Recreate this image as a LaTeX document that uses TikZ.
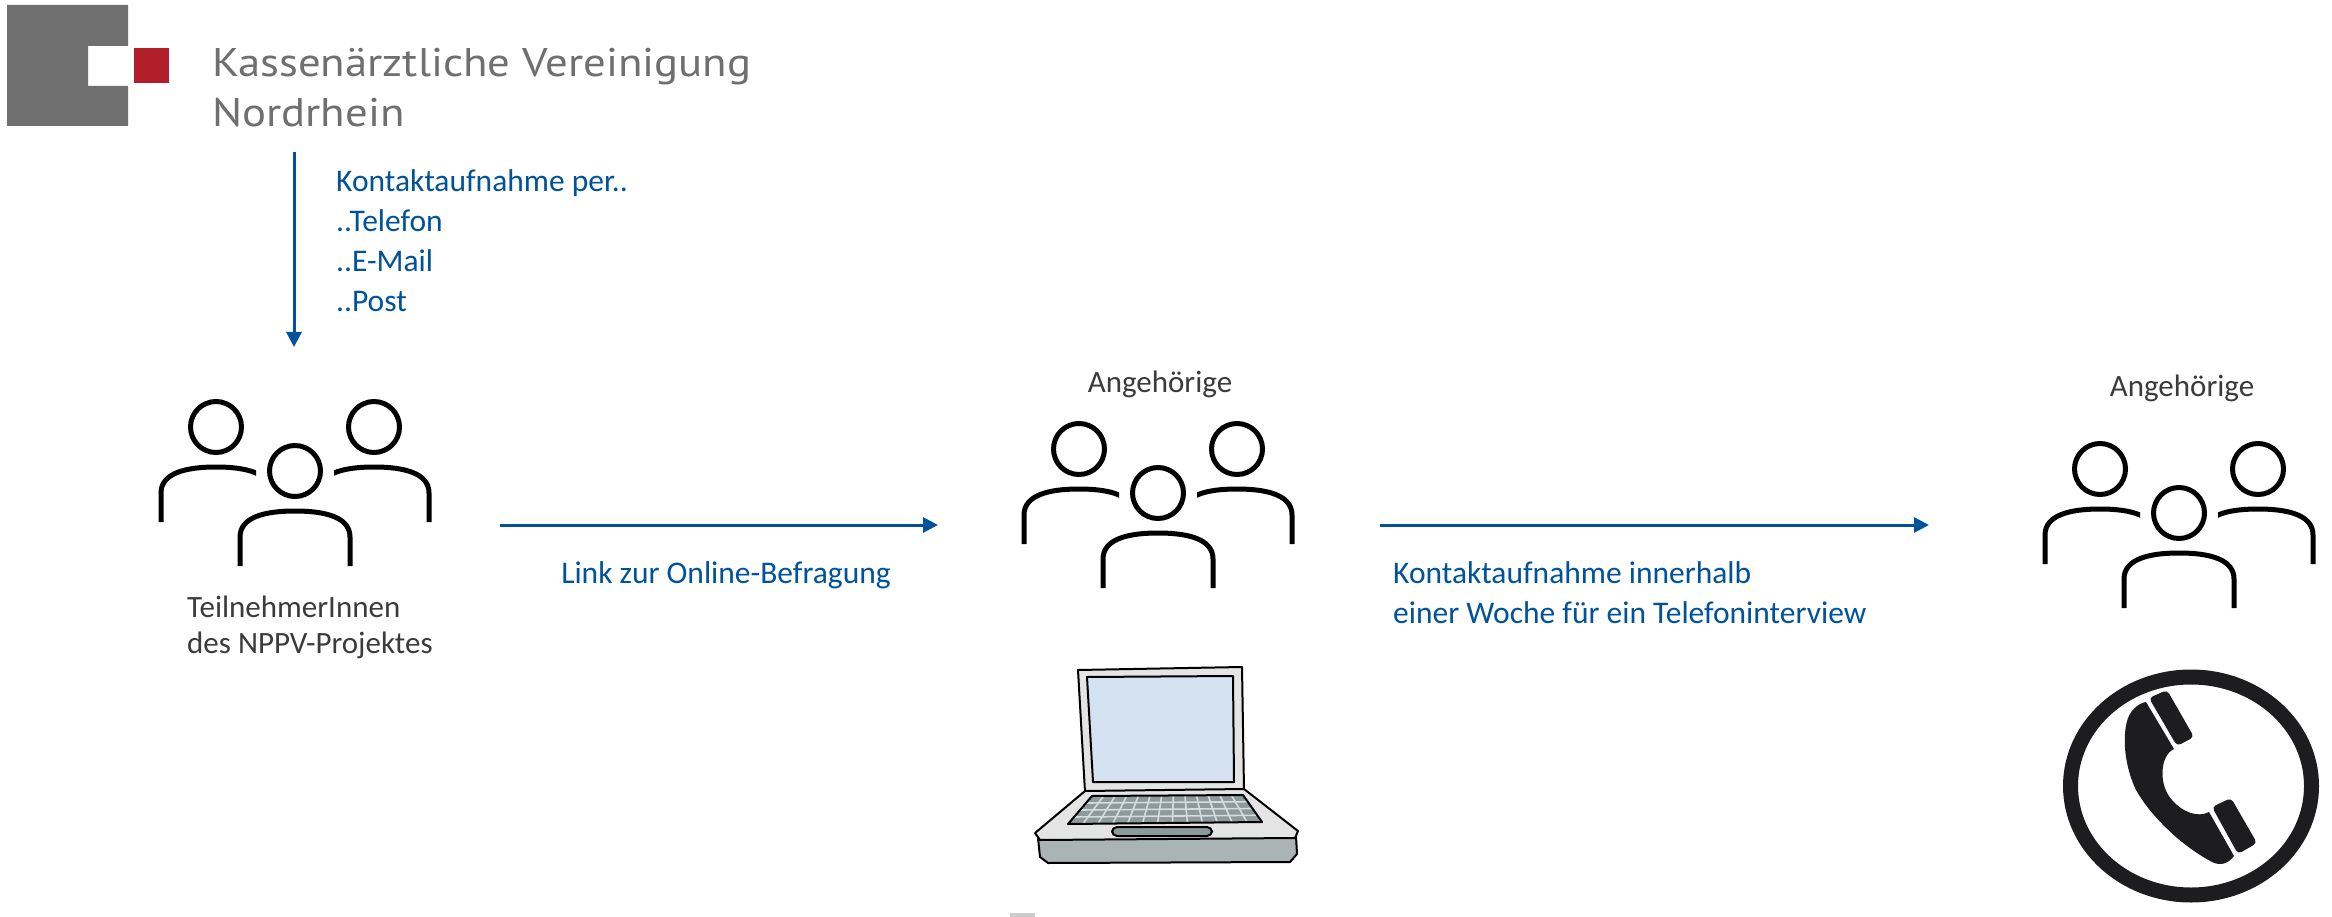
\documentclass[tikz,border=0pt]{standalone}
\usepackage{fontspec}
\setmainfont{Carlito}
\newfontfamily\logofont{PT Sans}
\usetikzlibrary{arrows.meta,calc}

\definecolor{kvblue}{RGB}{0,82,155}
\definecolor{kvgray}{RGB}{112,111,111}
\definecolor{kvred}{RGB}{178,31,43}
\definecolor{labelgray}{RGB}{59,59,59}
\definecolor{lidgray}{RGB}{228,228,228}
\definecolor{screenblue}{RGB}{212,226,242}
\definecolor{keygray}{RGB}{140,154,156}
\definecolor{keygap}{RGB}{214,220,220}
\definecolor{frontgray}{RGB}{170,180,181}
\definecolor{phoneblack}{RGB}{29,29,31}

\newsavebox\logobox
\newlength\logowidth
\newcommand\logosize{\fontsize{40}{40}\selectfont}

\tikzset{
  flow/.style={kvblue, line width=3pt, -{Triangle[length=15pt,width=15pt]}},
  bluetext/.style={kvblue, font=\fontsize{31.5}{39}\selectfont, inner sep=0pt},
  darktext/.style={labelgray, font=\fontsize{31}{39}\selectfont, inner sep=0pt},
  logotext/.style={kvgray, inner sep=0pt, anchor=base west},
  icon/.style={black, line width=5pt},
  laptopline/.style={black, line width=2pt, line join=round},
  keyline/.style={keygap, line width=1.6pt},
  % three people: one in front, two behind
  group/.pic={
    \begin{scope}
      \clip (-140,-80) rectangle (-39,60);
      \draw[icon] (-79,-44) circle (25.5);
      \draw[icon] (-134,51) -- (-134,22) .. controls (-134,2) and (-109,-4) .. (-79,-4)
                  .. controls (-49,-4) and (-24,2) .. (-24,22) -- (-24,51);
    \end{scope}
    \begin{scope}
      \clip (39,-80) rectangle (140,60);
      \draw[icon] (79,-44) circle (25.5);
      \draw[icon] (24,51) -- (24,22) .. controls (24,2) and (49,-4) .. (79,-4)
                  .. controls (109,-4) and (134,2) .. (134,22) -- (134,51);
    \end{scope}
    \draw[icon] (0,0) circle (25.5);
    \draw[icon] (-55,95) -- (-55,66) .. controls (-55,46) and (-30,40) .. (0,40)
                .. controls (30,40) and (55,46) .. (55,66) -- (55,95);
  }
}

\begin{document}
% horizontal stretch of the logo lettering, so that the first line is 539pt wide
\sbox\logobox{\logofont\logosize Kassenärztliche Vereinigung}%
\setlength\logowidth{\wd\logobox}%
\pgfmathsetmacro\logostretch{539/\logowidth}%
\begin{tikzpicture}[x=1pt,y=-1pt]
  \useasboundingbox (0,0) rectangle (2332,917);
  \fill[white] (0,0) rectangle (2332,917);

  % logo
  \fill[kvgray] (7,5) -- (128,5) -- (128,46) -- (88,46) -- (88,86) -- (128,86)
                -- (128,126) -- (7,126) -- cycle;
  \fill[kvred] (134,48) rectangle (169,83);
  \node[logotext] (kv1) at (212,77)
    {\scalebox{\logostretch}[1]{\logofont\logosize Kassenärztliche Vereinigung}};
  \node[logotext] (kv2) at (212,127)
    {\scalebox{\logostretch}[1]{\logofont\logosize Nordrhein}};

  % contact from the KV
  \coordinate (kvout) at (294,152);
  \coordinate (tnin) at (294,347);
  \draw[flow] (kvout) -- (tnin);
  \node[bluetext, anchor=base west] (k1) at (336,192) {Kontaktaufnahme per..};
  \node[bluetext, anchor=base west] (k2) at (336,232) {..Telefon};
  \node[bluetext, anchor=base west] (k3) at (336,272) {..E-Mail};
  \node[bluetext, anchor=base west] (k4) at (336,312) {..Post};

  % people
  \pic (g1) at (295,471) {group};
  \pic (g2) at (1158,493) {group};
  \pic (g3) at (2179,513) {group};
  \node[darktext, anchor=base west] (tn1) at (187,617) {TeilnehmerInnen};
  \node[darktext, anchor=base west] (tn2) at (187,653) {des NPPV-Projektes};
  \node[darktext, anchor=base] (ang1) at (1160,392) {Angehörige};
  \node[darktext, anchor=base] (ang2) at (2182,396) {Angehörige};

  % connectors
  \coordinate (a1s) at (500,525);
  \coordinate (a1e) at (938,525);
  \draw[flow] (a1s) -- (a1e);
  \node[bluetext, anchor=base] (link) at (726,583) {Link zur Online-Befragung};
  \coordinate (a2s) at (1380,525);
  \coordinate (a2e) at (1929,525);
  \draw[flow] (a2s) -- (a2e);
  \node[bluetext, anchor=base west] (w1) at (1393,583) {Kontaktaufnahme innerhalb};
  \node[bluetext, anchor=base west] (w2) at (1393,623) {einer Woche für ein Telefoninterview};

  % laptop
  \filldraw[laptopline, fill=lidgray] (1078,670) -- (1242,667) -- (1244,790) -- (1085,792) -- cycle;
  \filldraw[laptopline, fill=screenblue] (1087,677) -- (1233,676) -- (1234,782) -- (1093,782) -- cycle;
  \filldraw[laptopline, fill=frontgray] (1038,838) -- (1296,836) -- (1297,854) -- (1290,862)
            -- (1048,863) -- (1040,857) -- cycle;
  \filldraw[laptopline, fill=lidgray] (1085,791) -- (1244,789) -- (1298,831) -- (1295,838)
            -- (1040,840) -- (1035,833) -- cycle;
  \coordinate (kbTL) at (1092,796);
  \coordinate (kbTR) at (1243,795);
  \coordinate (kbBR) at (1262,822);
  \coordinate (kbBL) at (1068,824);
  \fill[keygray] (kbTL) -- (kbTR) -- (kbBR) -- (kbBL) -- cycle;
  \foreach \f in {0.25,0.5,0.75}
    \draw[keyline] ($(kbTL)!\f!(kbBL)$) -- ($(kbTR)!\f!(kbBR)$);
  \foreach \k in {1,...,12}
    \draw[keyline] ($(kbTL)!\k/13!(kbTR)$) -- ($(kbBL)!\k/13!(kbBR)$);
  \draw[laptopline] (kbTL) -- (kbTR) -- (kbBR) -- (kbBL) -- cycle;
  \filldraw[laptopline, fill=keygray, rounded corners=5pt] (1112,827) rectangle (1212,836);
  \fill[black!20] (1010,913) rectangle (1035,917);

  % telephone
  \draw[phoneblack, line width=15pt] (2191,786) ellipse [x radius=120.5, y radius=109];
  \fill[phoneblack, rounded corners=4pt] (2149,698) -- (2167,690) -- (2194,737) -- (2177,746) -- cycle;
  \fill[phoneblack, rounded corners=4pt] (2212,807) -- (2231,798) -- (2257,843) -- (2238,854) -- cycle;
  \fill[phoneblack] (2146,702) -- (2174,749)
      .. controls (2160,755) and (2158,785) .. (2172,800)
      .. controls (2182,812) and (2198,818) .. (2209,812)
      -- (2234,856)
      .. controls (2228,864) and (2220,866) .. (2212,862)
      .. controls (2180,845) and (2150,815) .. (2136,790)
      .. controls (2124,765) and (2122,735) .. (2128,718)
      .. controls (2132,708) and (2140,703) .. (2146,702) -- cycle;
\end{tikzpicture}
\end{document}
